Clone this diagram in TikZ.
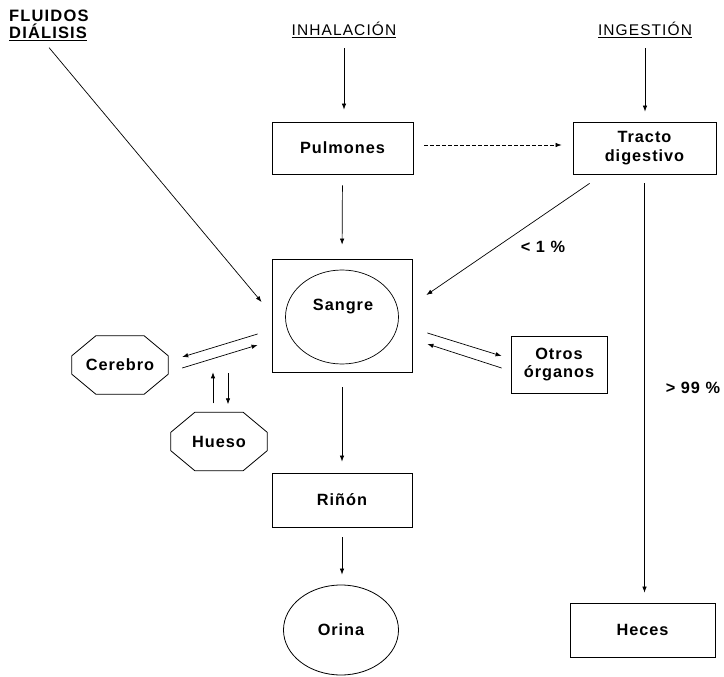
\documentclass[tikz,border=0pt]{standalone}
\usepackage{fontspec}
\setmainfont{Liberation Sans}
\newfontfamily\bodyfont{Liberation Sans}[LetterSpace=6]
\newfontfamily\headfont{Liberation Sans}[LetterSpace=7]
\usetikzlibrary{arrows.meta,shapes.geometric}
\begin{document}
\begin{tikzpicture}[x=1pt,y=-1pt,
  every node/.style={font=\bodyfont\fontsize{16.3}{18.5}\selectfont\bfseries, align=center},
  box/.style={draw, line width=0.8pt, rectangle, inner sep=0pt},
  octa/.style={rectangle, inner sep=0pt, minimum width=96pt, minimum height=58pt},
  octline/.style={draw, line width=0.8pt},
  arr/.style={line width=0.7pt, -{Latex[length=6pt,width=4.5pt]}},
  headtxt/.style={font=\headfont\fontsize{15.5}{18}\selectfont, inner sep=0pt, anchor=base},
  headbold/.style={font=\headfont\fontsize{16.5}{18}\selectfont\bfseries, inner sep=0pt, anchor=base west}
]
\useasboundingbox (0,0) rectangle (724,677);

% heading texts
\node[headbold] (fluid1) at (9,21.7) {FLUIDOS};
\node[headbold] (fluid2) at (9,38.3) {\underline{DIÁLISIS}};
\node[headtxt] (inh) at (344,35.7) {\underline{INHALACIÓN}};
\node[headtxt] (ing) at (645,35.7) {\underline{INGESTIÓN}};

% boxes
\node[box, minimum width=141pt, minimum height=52pt] (pulmones) at (342.5,148) {Pulmones};
\node[box, minimum width=143pt, minimum height=52pt] (tracto) at (644.5,148) {Tracto\\digestivo};
\node[box, minimum width=140pt, minimum height=113pt] (sangre) at (342,315.5) {};
\node[draw, line width=0.7pt, ellipse, inner sep=0pt, minimum width=113pt, minimum height=94pt] (sangreC) at (342,317) {};
\node (sangreT) at (343,307) {Sangre};
\node[box, minimum width=96pt, minimum height=57pt] (otros) at (559,364.5) {Otros\\órganos};
\node[box, minimum width=140pt, minimum height=54pt] (rinon) at (342,500) {Riñón};
\node[box, minimum width=145pt, minimum height=54pt] (heces) at (642.5,630) {Heces};
\node[draw, line width=0.8pt, ellipse, inner sep=0pt, minimum width=115pt, minimum height=90pt] (orina) at (341,630) {Orina};
\node[octa] (cerebro) at (120,365) {Cerebro};
\node[octa] (hueso) at (219,441.5) {Hueso};
\foreach \o in {cerebro,hueso}{
  \draw[octline] ([xshift=24pt]\o.north west) -- ([xshift=-24pt]\o.north east)
    -- ([yshift=-20pt]\o.north east) -- ([yshift=20pt]\o.south east)
    -- ([xshift=-24pt]\o.south east) -- ([xshift=24pt]\o.south west)
    -- ([yshift=20pt]\o.south west) -- ([yshift=-20pt]\o.north west) -- cycle;
}

% labels
\node (lt1) at (543,247) {< 1 \%};
\node (gt99) at (693,388) {> 99 \%};

% connectors
\draw[arr, shorten <=10pt, shorten >=12pt] (inh.south) -- (inh.south |- pulmones.north);
\draw[arr, shorten <=10pt, shorten >=10pt] (ing.south) -- (ing.south |- tracto.north);
\draw[arr, dashed, dash pattern=on 4pt off 2pt, shorten <=11pt, shorten >=11pt] ([yshift=3pt]pulmones.east) -- ([yshift=3pt]tracto.west);
\draw[arr, shorten <=11pt, shorten >=14pt] (pulmones.south) -- (sangre.north);
\draw[arr] ([xshift=17pt,yshift=-9pt]tracto.south west) -- ([xshift=14pt,yshift=20.5pt]sangre.east);
\draw[arr] ([xshift=1pt,yshift=-7pt]fluid2.south) -- ([xshift=-10pt,yshift=13.5pt]sangre.west);
% sangre <-> cerebro
\draw[arr] ([xshift=-14pt,yshift=-18.5pt]sangre.west) -- ([xshift=14pt,yshift=8pt]cerebro.east);
\draw[arr] ([xshift=14pt,yshift=-3pt]cerebro.east) -- ([xshift=-14pt,yshift=-29.5pt]sangre.west);
% hueso
\coordinate (hupend) at ([xshift=-6pt,yshift=40pt]hueso.north);
\coordinate (hdnstart) at ([xshift=9pt,yshift=39pt]hueso.north);
\draw[arr] ([xshift=-6pt,yshift=9pt]hueso.north) -- (hupend);
\draw[arr] (hdnstart) -- ([xshift=9pt,yshift=8pt]hueso.north);
% sangre <-> otros
\draw[arr] ([xshift=15pt,yshift=-17.5pt]sangre.east) -- ([xshift=-9pt,yshift=8.5pt]otros.west);
\draw[arr] ([xshift=-9pt,yshift=-3.5pt]otros.west) -- ([xshift=15pt,yshift=-28.5pt]sangre.east);
% down the chain
\draw[arr, shorten <=9pt, shorten >=10pt] (tracto.south) -- (tracto.south |- heces.north);
\draw[arr, shorten <=15pt, shorten >=11pt] (sangre.south) -- (rinon.north);
\draw[arr, shorten <=10pt, shorten >=10pt] (rinon.south) -- (rinon.south |- orina.north);
\end{tikzpicture}
\end{document}
